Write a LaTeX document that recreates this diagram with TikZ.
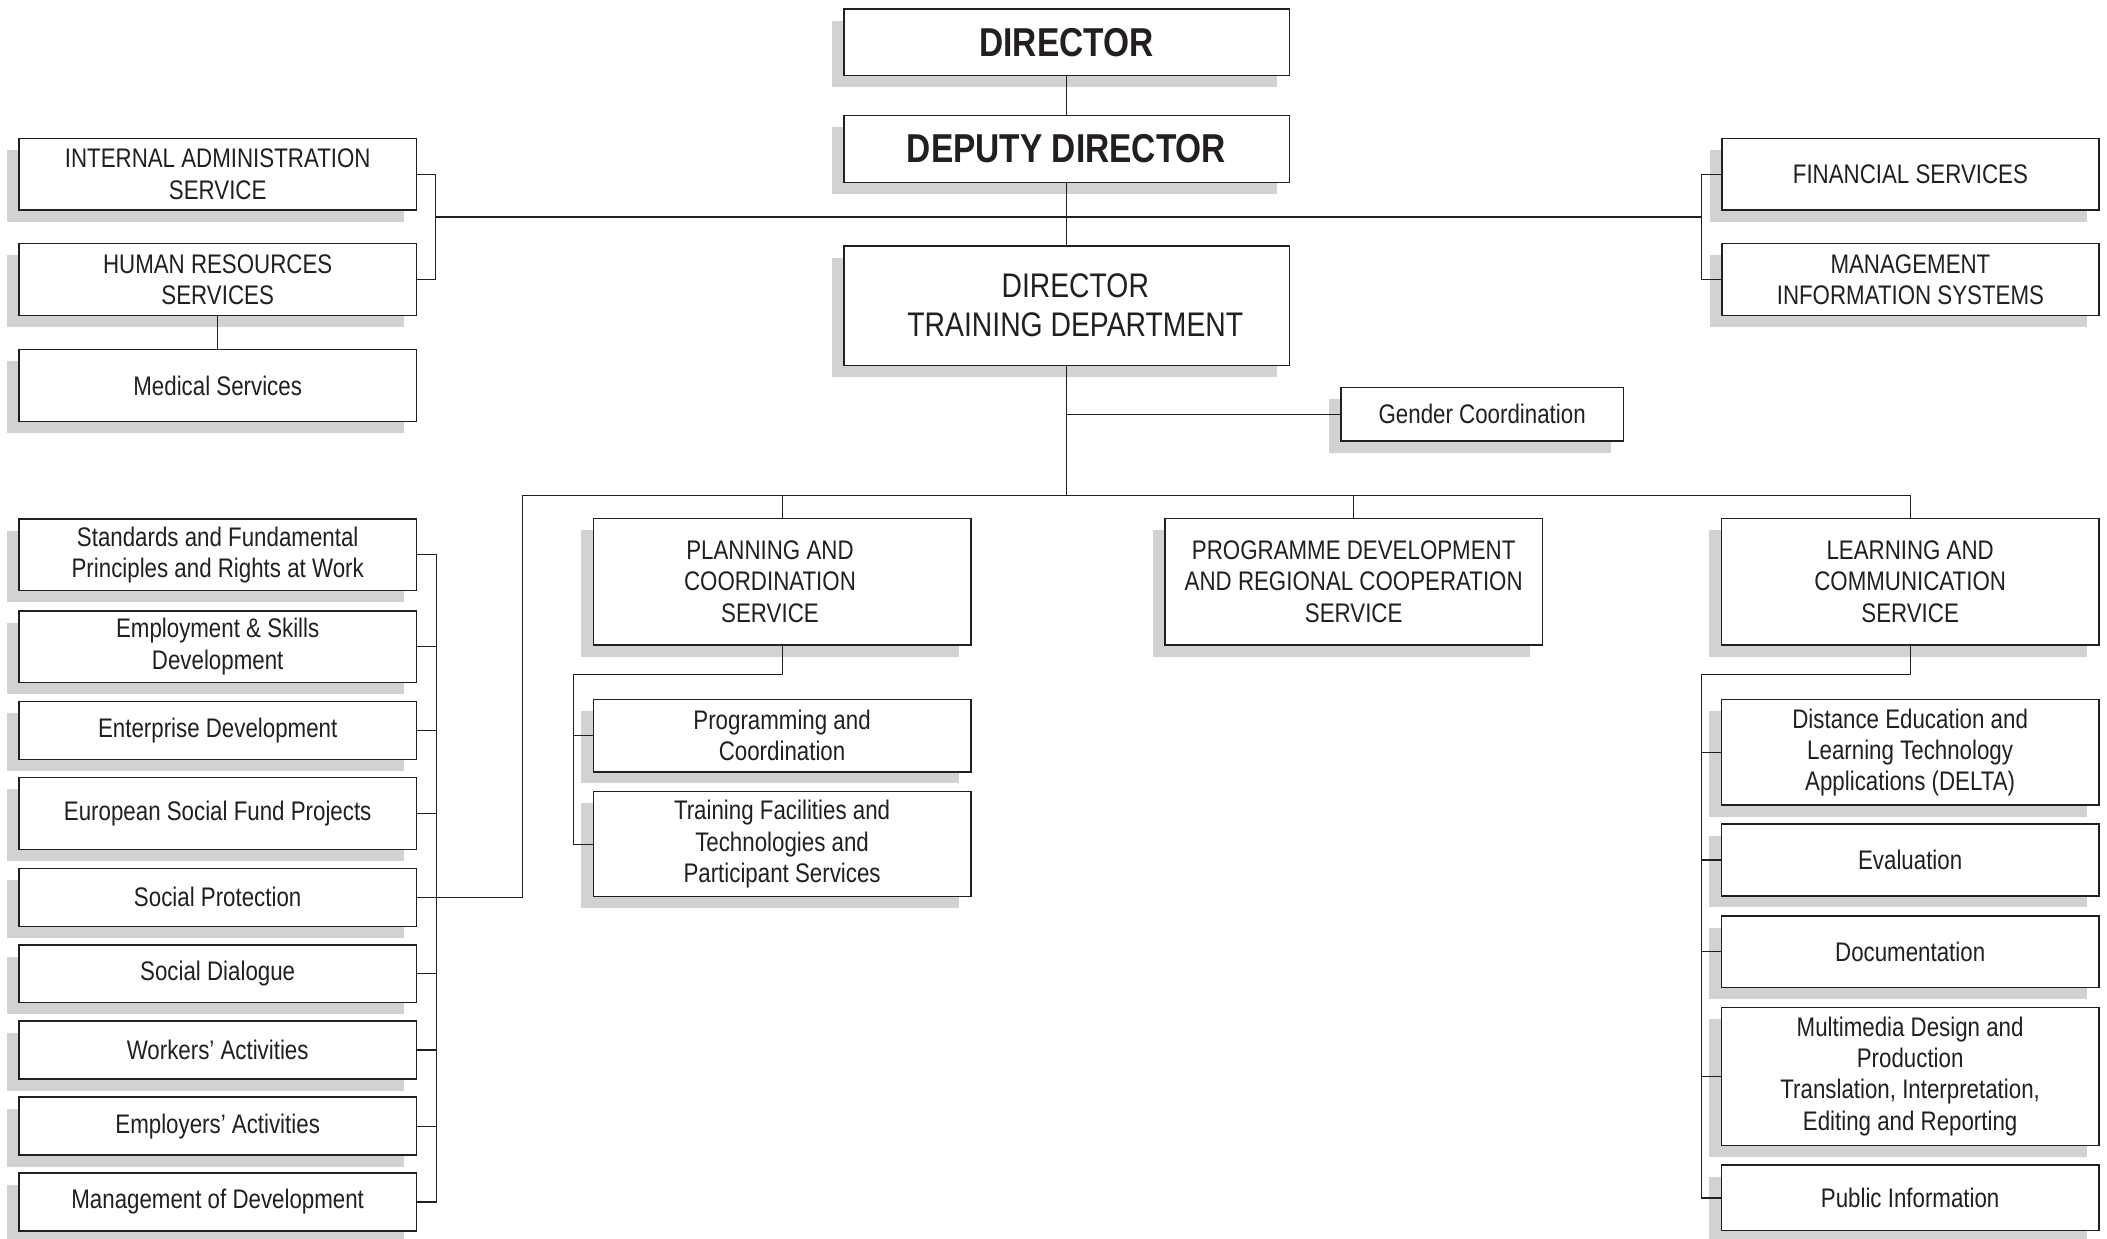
\documentclass[tikz,border=0pt]{standalone}
\usepackage{fontspec}
\setmainfont[FakeStretch=0.83]{Liberation Sans}
\usetikzlibrary{shadows}
\definecolor{ink}{HTML}{231F20}
\definecolor{shadowgray}{HTML}{D1D2D4}
\tikzset{
  orgbox/.style={draw=ink, line width=1.15pt, fill=white, inner sep=0pt, align=center,
    text=ink, font=\fontsize{20pt}{23.3pt}\selectfont,
    drop shadow={shadow xshift=-9pt, shadow yshift=-8.7pt, fill=shadowgray, opacity=1}},
  bigbold/.style={font=\fontsize{30pt}{34pt}\selectfont\bfseries},
  midtext/.style={font=\fontsize{25.4pt}{29pt}\selectfont},
  link/.style={draw=ink, line width=0.8pt}
}
\newcommand\orgnode[7][]{\node[orgbox,#1, minimum width=#5pt, minimum height=#6pt] (#2) at (#3,#4) {#7};}
\newcommand\padR{\rule{18pt}{0pt}}
\newcommand\padL{\rule{13pt}{0pt}}
\begin{document}
\begin{tikzpicture}[x=1pt,y=-1pt]
\useasboundingbox (0,0) rectangle (1568,921.3);
\fill[white] (0,0) rectangle (1568,921.3);
% top
\orgnode[bigbold]{director}{793.7}{31.4}{331.5}{49.3}{DIRECTOR}
\orgnode[bigbold]{deputy}{793.7}{110.9}{331.5}{49.7}{DEPUTY DIRECTOR}
\orgnode[midtext]{training}{793.7}{227.5}{331.5}{89}{\padL DIRECTOR\\\padL TRAINING DEPARTMENT}
\orgnode{gender}{1103}{308.2}{210}{39.7}{Gender Coordination}
% left top
\orgnode{ia}{162}{129.6}{296}{53.4}{INTERNAL ADMINISTRATION\\SERVICE}
\orgnode{hr}{162}{208}{296}{53.4}{HUMAN RESOURCES\\SERVICES}
\orgnode{med}{162}{286.8}{296}{53.5}{Medical Services}
% right top
\orgnode{fin}{1421.7}{129.6}{280.5}{53.4}{FINANCIAL SERVICES}
\orgnode{mis}{1421.7}{208}{280.5}{53.4}{MANAGEMENT\\INFORMATION SYSTEMS}
% left column
\orgnode{std}{162}{412.9}{296}{53.4}{Standards and Fundamental\\Principles and Rights at Work}
\orgnode{emp}{162}{481.2}{296}{53.3}{Employment \& Skills\\Development}
\orgnode{ent}{162}{543.5}{296}{43.2}{Enterprise Development}
\orgnode{esf}{162}{605.5}{296}{53.6}{European Social Fund Projects}
\orgnode{sp}{162}{667.8}{296}{43.2}{Social Protection}
\orgnode{sd}{162}{724.6}{296}{42.6}{Social Dialogue}
\orgnode{wa}{162}{781.4}{296}{43.2}{Workers’ Activities}
\orgnode{ea}{162}{838}{296}{43.1}{Employers’ Activities}
\orgnode{mod}{162}{894.5}{296}{43.1}{Management of Development}
% middle row
\orgnode{plan}{582}{432.85}{281}{94.3}{PLANNING AND\padR\\COORDINATION\padR\\SERVICE\padR}
\orgnode{prog}{1007.4}{432.85}{281}{94.3}{PROGRAMME DEVELOPMENT\\AND REGIONAL COOPERATION\\SERVICE}
\orgnode{learn}{1421.5}{432.85}{281}{94.3}{LEARNING AND\\COMMUNICATION\\SERVICE}
% planning subs
\orgnode{pc}{582}{547.5}{281}{53.6}{Programming and\\Coordination}
\orgnode{tf}{582}{628.2}{281}{78.1}{Training Facilities and\\Technologies and\\Participant Services}
% learning subs
\orgnode{delta}{1421.5}{559.9}{281}{78.4}{Distance Education and\\Learning Technology\\Applications (DELTA)}
\orgnode{eval}{1421.5}{640}{281}{53.2}{Evaluation}
\orgnode{doc}{1421.5}{708.4}{281}{53.2}{Documentation}
\orgnode{mm}{1421.5}{801}{281}{102.7}{Multimedia Design and\\Production\\Translation, Interpretation,\\Editing and Reporting}
\orgnode{pub}{1421.5}{891.5}{281}{48.7}{Public Information}
% connector junctions
\coordinate (lj) at (324,161.5);
\coordinate (rj) at (1266.5,161.5);
\coordinate (bus) at (388.7,369);
\coordinate (pj) at (426.9,501.8);
\coordinate (lcj) at (1266.4,502);
% connectors
\draw[link] (director) -- (deputy);
\draw[link] (deputy) -- (training);
\draw[link] (lj) -- (rj);
\draw[link] (ia.east) -| (lj) |- (hr.east);
\draw[link] (fin.west) -| (rj) |- (mis.west);
\draw[link] (hr) -- (med);
\draw[link] (training.south |- gender.west) -- (gender.west);
\draw[link] (training.south) -- (training.south |- bus);
\draw[link] (sp.east) -| (bus) -| (learn.north);
\draw[link] (plan.north) -- (plan.north |- bus);
\draw[link] (prog.north) -- (prog.north |- bus);
\draw[link] (std.east) -- ++(14,0) |- (mod.east);
\foreach \n in {emp,ent,esf,sp,sd,wa,ea}{\draw[link] (\n.east) -- ++(14,0);}
\draw[link] (plan.south) |- (pj) |- (tf.west);
\draw[link] (pj |- pc.west) -- (pc.west);
\draw[link] (learn.south) |- (lcj) |- (pub.west);
\foreach \n in {delta,eval,doc,mm}{\draw[link] (lcj |- \n.west) -- (\n.west);}
\end{tikzpicture}
\end{document}
